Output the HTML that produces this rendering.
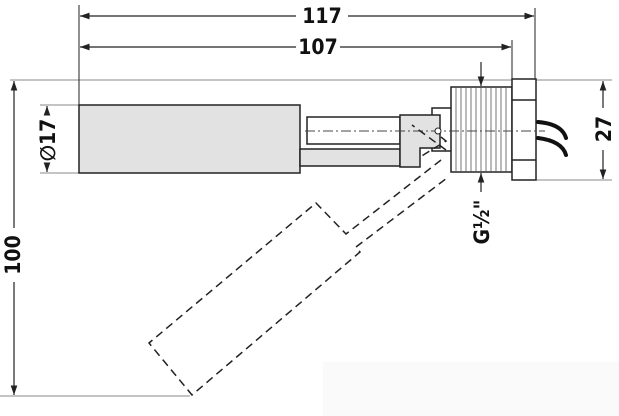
<!DOCTYPE html>
<html><head><style>body{margin:0;background:#fff}svg{display:block}</style></head><body>
<svg width="619" height="416" viewBox="0 0 619 416" xmlns="http://www.w3.org/2000/svg" font-family="DejaVu Sans Condensed, Liberation Sans, sans-serif">
<defs>
<marker id="a" viewBox="0 0 10 10" refX="10" refY="5" markerWidth="8" markerHeight="8" orient="auto-start-reverse"><path d="M0,1.5 L10,5 L0,8.5z" fill="#222"/></marker>
</defs>
<rect x="323" y="362" width="296" height="54" fill="#fafafa"/>
<g stroke="#888" stroke-width="1">
<line x1="10" y1="80" x2="612" y2="80"/>
<line x1="0" y1="396" x2="190" y2="396"/>
<line x1="40" y1="105" x2="79" y2="105"/><line x1="40" y1="173" x2="79" y2="173"/>
<line x1="536" y1="180" x2="612" y2="180"/>
</g>
<g stroke="#222" stroke-width="1">
<line x1="79" y1="5" x2="79" y2="105"/>
<line x1="535" y1="8" x2="535" y2="80"/>
<line x1="512" y1="40" x2="512" y2="80"/>
</g>
<g stroke="#222" stroke-width="1.2" fill="none">
<line x1="80" y1="16" x2="296" y2="16" marker-start="url(#a)"/><line x1="348" y1="16" x2="534" y2="16" marker-end="url(#a)"/>
<line x1="80" y1="47" x2="296" y2="47" marker-start="url(#a)"/><line x1="340" y1="47" x2="511" y2="47" marker-end="url(#a)"/>
<line x1="14" y1="81" x2="14" y2="228" marker-start="url(#a)"/><line x1="14" y1="282" x2="14" y2="395" marker-end="url(#a)"/>
<line x1="47" y1="106" x2="47" y2="112" marker-start="url(#a)"/><line x1="47" y1="166" x2="47" y2="172" marker-end="url(#a)"/>
<line x1="603" y1="81" x2="603" y2="108" marker-start="url(#a)"/><line x1="603" y1="150" x2="603" y2="179" marker-end="url(#a)"/>
<line x1="481" y1="62" x2="481" y2="86" marker-end="url(#a)"/>
<line x1="481" y1="192" x2="481" y2="173" marker-end="url(#a)"/>
</g>
<g font-size="21" font-weight="bold" fill="#111" text-anchor="middle">
<text x="322" y="23">117</text>
<text x="318" y="54">107</text>
<text transform="translate(20,255) rotate(-90)">100</text>
<text transform="translate(55,140) rotate(-90)">∅17</text>
<text transform="translate(611,129) rotate(-90)">27</text>
<text transform="translate(489,222) rotate(-90)">G½"</text>
</g>
<g stroke="#222" stroke-width="1.5">
<rect x="79" y="105" width="221" height="68" fill="#e2e2e2"/>
<rect x="307" y="117" width="93" height="27" fill="#fff"/>
<rect x="300" y="149" width="100" height="17" fill="#e2e2e2"/>
<rect x="432" y="108" width="20" height="43" fill="#fff"/>
<path d="M400,115 H440 V148 H420 V167 H400 Z" fill="#e2e2e2"/>
<rect x="451" y="87" width="61" height="85" fill="#fff"/>
<rect x="512" y="79" width="24" height="101" fill="#fff"/>
<line x1="512" y1="100" x2="536" y2="100"/><line x1="512" y1="160" x2="536" y2="160"/>
</g>
<g stroke="#555" stroke-width="0.8">
<path d="M456,87V172M461,87V172M466,87V172M471,87V172M476,87V172M481,87V172M486,87V172M491,87V172M496,87V172M501,87V172M506,87V172"/>
</g>
<g stroke="#111" stroke-width="4" fill="none" stroke-linecap="round">
<path d="M538,122 Q562,124 566,138"/><path d="M538,138 Q562,141 566,155"/>
</g>
<line x1="305" y1="131" x2="545" y2="131" stroke="#444" stroke-width="1" stroke-dasharray="10,3,2,3"/>
<circle cx="438" cy="131" r="3" fill="#fff" stroke="#222"/>
<g stroke="#222" stroke-width="1.5" fill="none" stroke-dasharray="8,5">
<path d="M446,150 L412,125 M441,137 L446,141 L420,157"/>
<path d="M441,160 L346,234 L316,203 L149,343 L192,395 L360,252 L356,247 L447,178"/>
</g>
</svg>
</body></html>
